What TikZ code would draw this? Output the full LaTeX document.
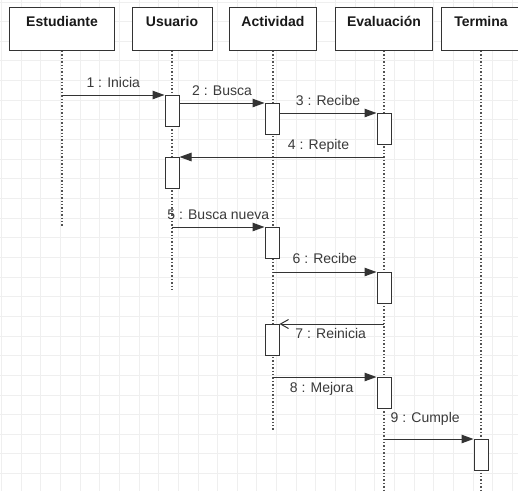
\documentclass[tikz,border=0pt]{standalone}
\usepackage{fontspec}
\setmainfont{Liberation Sans}
\usepackage{xcolor}
\usepackage{tikz}
\usetikzlibrary{arrows.meta}
\usetikzlibrary{backgrounds}
\usetikzlibrary{calc}

\definecolor{gridgray}{HTML}{EFEFEF}
\definecolor{linegray}{HTML}{333333}
\definecolor{textgray}{HTML}{3A3A3A}

\tikzset{
  head/.style={draw=linegray, fill=white, line width=1pt, inner sep=0pt, anchor=north,
    minimum height=43pt, text height=19pt, text depth=24pt,
    font=\fontsize{14}{16}\selectfont\bfseries, text=black!90},
  life/.style={draw=linegray!85, line width=1.3pt, dash pattern=on 1.4pt off 2pt},
  actbox/.style={draw=linegray, fill=white, line width=1pt, anchor=north,
    minimum width=14pt, minimum height=31pt, inner sep=0pt},
  msg/.style={draw=linegray, line width=1pt, -{Triangle[length=12pt,width=8.5pt]}},
  reply/.style={draw=linegray, line width=1pt, -{Straight Barb[length=8pt,width=9pt]}},
  msglabel/.style={text=textgray, inner sep=1pt, text height=10pt, text depth=3pt,
    font=\fontsize{14}{16}\selectfont},
}

\begin{document}
\begin{tikzpicture}[x=1pt, y=-1pt]
 \useasboundingbox (0,0) rectangle (518,491);

 \node (est) [head, minimum width=105pt] at (62,7) { Estudiante };
 \node (usu) [head, minimum width=80pt] at (172,7) { Usuario };
 \node (act) [head, minimum width=87pt] at (273,7) { Actividad };
 \node (eva) [head, minimum width=97pt] at (384,7) { Evaluación };
 \node (ter) [head, minimum width=80pt] at (481,7) { Termina };

 \coordinate (est-end) at (62,226);
 \coordinate (usu-end) at (172,292);
 \coordinate (act-end) at (273,430);
 \coordinate (eva-end) at (384,491);
 \coordinate (ter-end) at (481,491);

 \draw [life] (est.south) -- (est-end);
 \draw [life] (usu.south) -- (usu-end);
 \draw [life] (act.south) -- (act-end);
 \draw [life] (eva.south) -- (eva-end);
 \draw [life] (ter.south) -- (ter-end);

 \node (u1) [actbox] at (172,95) {};
 \node (a1) [actbox] at (272,103) {};
 \node (e1) [actbox] at (384,113) {};
 \node (u2) [actbox] at (172,157) {};
 \node (a2) [actbox] at (272,227) {};
 \node (e2) [actbox] at (384,272) {};
 \node (a3) [actbox] at (272,324) {};
 \node (e3) [actbox] at (384,377) {};
 \node (t1) [actbox] at (481,439) {};

 \draw [msg] (est.south |- u1.north) -- node (l1) [msglabel, above=3pt] { 1 : Inicia } (u1.north west);
 \draw [msg] (u1.east |- a1.north) -- node (l2) [msglabel, above=3pt] { 2 : Busca } (a1.north west);
 \draw [msg] (a1.east |- e1.north) -- node (l3) [msglabel, above=3pt] { 3 : Recibe } (e1.north west);
 \draw [msg] (eva.south |- u2.north) -- node (l4) [msglabel, above=3pt, pos=0.32] { 4 : Repite } (u2.north east);
 \draw [msg] (usu.south |- a2.north) -- node (l5) [msglabel, above=3pt] { 5 : Busca nueva } (a2.north west);
 \draw [msg] (act.south |- e2.north) -- node (l6) [msglabel, above=4pt] { 6 : Recibe } (e2.north west);
 \draw [reply] (eva.south |- a3.north) -- node (l7) [msglabel, below=3pt, pos=0.51] { 7 : Reinicia } (a3.north east);
 \draw [msg] (act.south |- e3.north) -- node (l8) [msglabel, below=4pt, pos=0.47] { 8 : Mejora } (e3.north west);
 \draw [msg] (eva.south |- t1.north) -- node (l9) [msglabel, above=12pt, pos=0.46] { 9 : Cumple } (t1.north west);

 \begin{scope}[on background layer]
   \fill [white] (0,0) rectangle (518,491);
   \foreach \k in {0,...,26}
     \draw [gridgray, line width=1pt] ({1.5+19.65*\k},0) -- ++(0,491);
   \foreach \k in {0,...,24}
     \draw [gridgray, line width=1pt] (0,{2+19.65*\k}) -- ++(518,0);
 \end{scope}
\end{tikzpicture}
\end{document}
